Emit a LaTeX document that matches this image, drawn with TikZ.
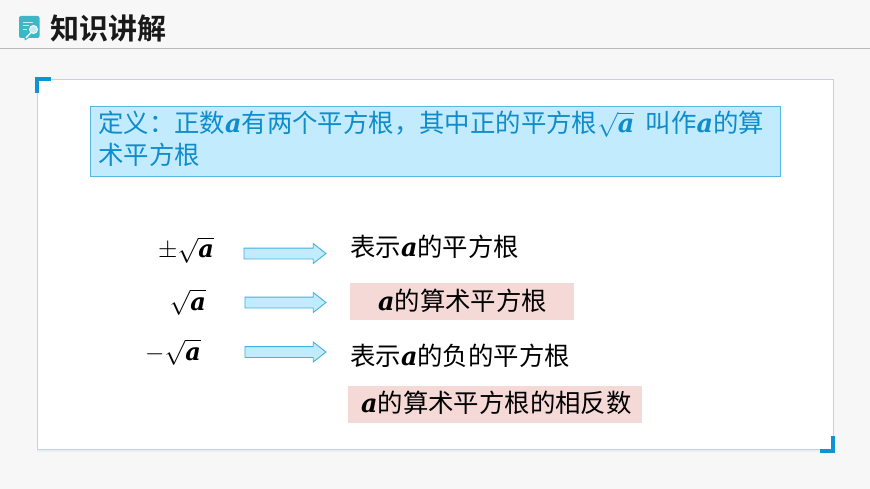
\documentclass[tikz,border=0pt]{standalone}
\usepackage{amsmath}
\usepackage{fontspec}
\setmainfont{Liberation Serif}
\newfontfamily\cjk{Noto Sans CJK SC}
\newfontfamily\cjkbold{Noto Sans CJK SC Bold}
\newfontface\bafont[Scale=1.0]{DejaVu Serif Bold Italic}
\usetikzlibrary{positioning}
\usetikzlibrary{shapes.arrows}
\definecolor{pagebg}{HTML}{F7F7F7}
\definecolor{headline}{HTML}{B9B9B9}
\definecolor{panelline}{HTML}{C5D1E2}
\definecolor{cornerblue}{HTML}{0F93D5}
\definecolor{defline}{HTML}{55B7E2}
\definecolor{deffill}{HTML}{C3EBFE}
\definecolor{deftext}{HTML}{0E8CCB}
\definecolor{arrowline}{HTML}{3FB2E3}
\definecolor{pinkfill}{HTML}{F5D9D7}
\definecolor{iconteal}{HTML}{3FB6C6}
\tikzset{
  body/.style={anchor=base west, inner sep=0pt, text=black, font=\fontsize{25.4}{31}\selectfont\cjk},
  mathlabel/.style={anchor=base east, inner sep=0pt, text=black, font=\fontsize{24}{31}\selectfont},
  pinkbox/.style={draw=none, fill=pinkfill},
  blockarrow/.style={single arrow, draw=arrowline, fill=deffill, line width=0.9pt, inner sep=5pt,
    minimum width=19pt, minimum height=81pt, single arrow head extend=4.5pt, single arrow tip angle=76},
  corner/.style={cornerblue, line width=3.5pt, line cap=butt, line join=miter}
}
\newcommand{\ba}{\mbox{\bafont a}}
\begin{document}
\begin{tikzpicture}[x=1pt,y=-1pt]
\useasboundingbox (0,0) rectangle (870,489);
\fill[pagebg] (0,0) rectangle (870,489);

% Header
\draw[headline, line width=1pt] (0,48.5) -- (870,48.5);
\fill[iconteal, rounded corners=2pt] (19,16) rectangle (39.5,38);
\fill[iconteal] (24,37) -- (30,37) -- (25,40.5) -- cycle;
\foreach \y/\xend in {22/33, 25.5/29, 29/27} {
  \draw[white!75!iconteal, line width=0.7pt] (23,\y) -- (\xend,\y);
}
\draw[white, line width=0.9pt, fill=white!70!iconteal] (33.5,29.5) circle (4pt);
\draw[white, line width=1.4pt] (30.5,33) -- (26,38);
\node[anchor=base west, inner sep=0pt, text=black!90, font=\fontsize{29}{31}\selectfont\cjkbold] (title) at (50,39.5) {知识讲解};

% Panel
\fill[panelline!35] (37,81) rectangle (833,452);
\draw[panelline, fill=white, line width=0.9pt] (37,79) rectangle (833,449);
\draw[corner] (50.5,78.8) -- (36.8,78.8) -- (36.8,93.5);
\draw[corner] (820,450.8) -- (833.2,450.8) -- (833.2,435.5);

% Definition
\node[draw=defline, fill=deffill, line width=1.3pt, minimum width=690pt, minimum height=70pt, anchor=north west, inner sep=0pt] (defbox) at (90,106) {};
\node[anchor=north west, inner sep=0pt, text=deftext, align=left, font=\fontsize{25.4}{31.5}\selectfont\cjk] (deftxt) at (98,111)
  {定义：正数$\ba$有两个平方根，其中正的平方根$\sqrt{\ba}$\ \ 叫作$\ba$的算\\术平方根};

% Pink boxes
\node[pinkbox, minimum width=224pt, minimum height=37pt, anchor=north west, inner sep=0pt] (pinka) at (349.5,283) {};
\node[pinkbox, minimum width=294pt, minimum height=37pt, anchor=north west, inner sep=0pt] (pinkb) at (348,386) {};

% Arrows
\foreach \name/\x/\y/\len in {
  arrowa/281.5/253.5/82,
  arrowb/282/302.5/81,
  arrowc/282/352/81
} {
  \node[blockarrow, minimum height=\len pt] (\name) at (\x,\y) {};
}

% Left formulas
\node[mathlabel] (plusminus) at (214,258) {$\pm\sqrt{\ba}$};
\node[mathlabel] (root) at (206,310) {$\sqrt{\ba}$};
\node[mathlabel] (minus) at (201,360) {$-\sqrt{\ba}$};

% Right labels
\node[body] (labela) at (350,256.5) {表示$\ba$的平方根};
\node[body] (labelb) at (378,310) {$\ba$的算术平方根};
\node[body] (labelc) at (350,365.5) {表示$\ba$的负的平方根};
\node[body] (labeld) at (361,412.5) {$\ba$的算术平方根的相反数};

\end{tikzpicture}
\end{document}
